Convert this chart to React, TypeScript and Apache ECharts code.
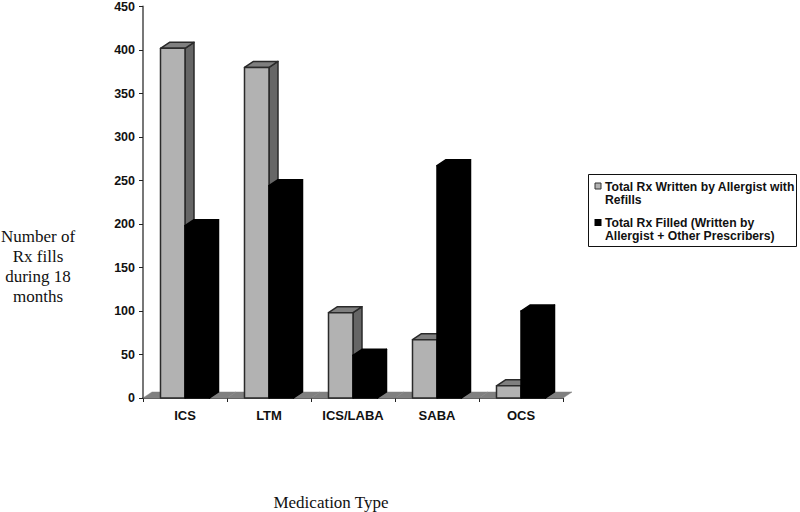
import React, { useEffect, useRef } from "react";
import * as echarts from "echarts";

const categories = ["ICS", "LTM", "ICS/LABA", "SABA", "OCS"];
const writtenValues = [402, 380, 98, 67, 14];
const filledValues = [198, 244, 49, 267, 100];
const floorValues = [0, 0, 0, 0, 0];
const seriesNames = [
  "Total Rx Written by Allergist with Refills",
  "Total Rx Filled (Written by Allergist + Other Prescribers)",
];

const DEPTH_X = 9;
const DEPTH_Y = 6;

function bar3d(slot: number, front: string, top: string, side: string, stroke: string) {
  return (params: any, api: any) => {
    const cat = api.value(0);
    const val = api.value(1);
    const band = api.size([1, 0])[0];
    const w = band * 0.2917;
    const c = api.coord([cat, val]);
    const b = api.coord([cat, 0]);
    const x0 = c[0] - w + slot * w;
    const x1 = x0 + w;
    const yT = c[1];
    const yB = b[1];
    const st = { stroke, lineWidth: 1.5, lineJoin: "round" };
    return {
      type: "group",
      children: [
        {
          type: "polygon",
          shape: { points: [[x1, yT], [x1 + DEPTH_X, yT - DEPTH_Y], [x1 + DEPTH_X, yB - DEPTH_Y], [x1, yB]] },
          style: { fill: side, ...st },
        },
        {
          type: "polygon",
          shape: { points: [[x0, yT], [x0 + DEPTH_X, yT - DEPTH_Y], [x1 + DEPTH_X, yT - DEPTH_Y], [x1, yT]] },
          style: { fill: top, ...st },
        },
        { type: "rect", shape: { x: x0, y: yT, width: w, height: yB - yT }, style: { fill: front, ...st } },
      ],
    };
  };
}

function floor(params: any, api: any) {
  const cat = api.value(0);
  const band = api.size([1, 0])[0];
  const b = api.coord([cat, 0]);
  const x0 = b[0] - band / 2;
  const x1 = b[0] + band / 2;
  const y = b[1];
  return {
    type: "polygon",
    shape: { points: [[x0, y], [x0 + DEPTH_X, y - DEPTH_Y], [x1 + DEPTH_X, y - DEPTH_Y], [x1, y]] },
    style: { fill: "#808080", stroke: "#808080", lineWidth: 0.5 },
  };
}

const SANS = "'Liberation Sans', Arial, sans-serif";
const SERIF = "'Liberation Serif', 'Times New Roman', serif";

export default function App() {
  const ref = useRef<HTMLDivElement>(null);
  useEffect(() => {
    const chart = echarts.init(ref.current!, undefined, { renderer: "svg" });
    const legendText = (x: number, y: number, text: string) => ({
      type: "text",
      x,
      y,
      style: { text, font: `bold 12.2px ${SANS}`, fill: "#111", textVerticalAlign: "top", lineHeight: 13 },
    });
    chart.setOption({
      animation: false,
      backgroundColor: "#fff",
      grid: { left: 143, right: 237, top: 4, bottom: 114, containLabel: false },
      xAxis: {
        type: "category",
        data: categories,
        boundaryGap: true,
        axisLine: { lineStyle: { color: "#222", width: 1.5 } },
        axisTick: { show: true, alignWithLabel: false, length: 4, lineStyle: { color: "#222" } },
        axisLabel: { color: "#111", fontFamily: SANS, fontWeight: "bold", fontSize: 13, margin: 11 },
      },
      yAxis: {
        type: "value",
        min: 0,
        max: 450,
        interval: 50,
        splitLine: { show: false },
        axisLine: { show: true, lineStyle: { color: "#777", width: 2 } },
        axisTick: { show: true, length: 4, lineStyle: { color: "#222" } },
        axisLabel: { color: "#111", fontFamily: SANS, fontWeight: "bold", fontSize: 12.5, margin: 8 },
      },
      series: [
        {
          type: "custom",
          name: "Floor",
          data: categories.map((c, i) => [i, floorValues[i]]),
          renderItem: floor,
          clip: false,
          silent: true,
          z: 1,
        },
        {
          type: "custom",
          name: seriesNames[0],
          data: categories.map((c, i) => [i, writtenValues[i]]),
          renderItem: bar3d(0, "#b2b2b2", "#7f7f7f", "#666666", "#2a2a2a"),
          clip: false,
          z: 2,
        },
        {
          type: "custom",
          name: seriesNames[1],
          data: categories.map((c, i) => [i, filledValues[i]]),
          renderItem: bar3d(1, "#000000", "#000000", "#000000", "#000000"),
          clip: false,
          z: 3,
        },
      ],
      graphic: [
        {
          type: "rect",
          shape: { x: 588.5, y: 174.5, width: 208, height: 72 },
          style: { fill: "#fff", stroke: "#111", lineWidth: 1 },
        },
        {
          type: "rect",
          shape: { x: 595, y: 183, width: 6, height: 6 },
          style: { fill: "#b2b2b2", stroke: "#333", lineWidth: 1 },
        },
        legendText(605, 180, "Total Rx Written by Allergist with\nRefills"),
        { type: "rect", shape: { x: 594.5, y: 219, width: 7, height: 7 }, style: { fill: "#000" } },
        legendText(605, 216, "Total Rx Filled (Written by\nAllergist + Other Prescribers)"),
        {
          type: "text",
          x: 38,
          y: 226,
          style: {
            text: "Number of\nRx fills\nduring 18\nmonths",
            font: `17px ${SERIF}`,
            fill: "#111",
            textAlign: "center",
            lineHeight: 20,
          },
        },
        {
          type: "text",
          x: 331,
          y: 494,
          style: { text: "Medication Type", font: `17px ${SERIF}`, fill: "#111", textAlign: "center" },
        },
      ],
    });
    return () => chart.dispose();
  }, []);
  return <div ref={ref} style={{ position: "absolute", left: 0, top: 0, width: 800, height: 512 }} />;
}
